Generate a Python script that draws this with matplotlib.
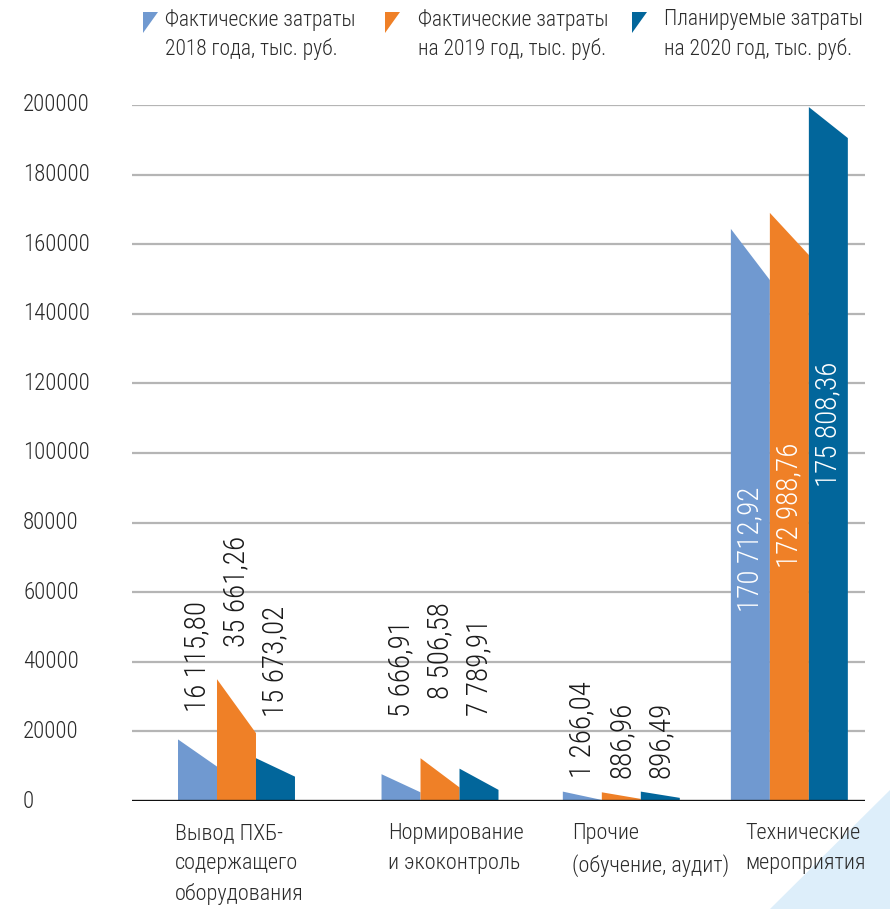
import matplotlib
matplotlib.use('Agg')
import matplotlib.pyplot as plt
from matplotlib import font_manager
from matplotlib.patches import Polygon

# pick a narrow face if one is installed
names = {f.name for f in font_manager.fontManager.ttflist}
family = 'DejaVu Sans'
for n in ['Roboto Condensed', 'Liberation Sans Narrow', 'Open Sans Condensed',
          'Noto Sans Condensed', 'DejaVu Sans Condensed']:
    if n in names:
        family = n
        break
plt.rcParams['font.family'] = [family, 'DejaVu Sans']
plt.rcParams['font.stretch'] = 'condensed'
plt.rcParams['font.weight'] = 'light'

categories = ['Вывод ПХБ-\nсодержащего\nоборудования', 'Нормирование\nи экоконтроль',
              'Прочие\n(обучение, аудит)', 'Технические\nмероприятия']
series = ['Фактические затраты\n2018 года, тыс. руб.',
          'Фактические затраты\nна 2019 год, тыс. руб.',
          'Планируемые затраты\nна 2020 год, тыс. руб.']

# drawn bar shapes (left edge top, right edge top)
left_2018 = [17700, 7700, 2700, 164400]
right_2018 = [9900, 2500, 300, 149700]
left_2019 = [35000, 12300, 2500, 169000]
right_2019 = [19500, 3900, 600, 156900]
left_2020 = [12300, 9300, 2700, 199400]
right_2020 = [7000, 3200, 900, 190500]

labels_2018 = ['16 115,80', '5 666,91', '1 266,04', '170 712,92']
labels_2019 = ['35 661,26', '8 506,58', '886,96', '172 988,76']
labels_2020 = ['15 673,02', '7 789,91', '896,49', '175 808,36']

yticks = [0, 20000, 40000, 60000, 80000, 100000, 120000, 140000, 160000, 180000, 200000]

colors = ['#7099d0', '#ef8027', '#02669b']
text_col = '#2b2b2b'

# layout
group_start = [1.18, 6.40, 11.05, 15.36]
label_y = [[25600, 24200, 6600, 54300],
           [44300, 29300, 6600, 67000],
           [24200, 24400, 6600, 90200]]
cat_x = [175, 388, 572, 745]

W, H = 890, 909
fig = plt.figure(figsize=(W / 100, H / 100), dpi=100)

# light blue corner triangle
fig.patches.append(Polygon([(770 / W, 0), (1, 0), (1, (H - 790) / H)], closed=True,
                           transform=fig.transFigure, facecolor='#ddeefa',
                           edgecolor='none', zorder=0))

ax = fig.add_axes([132 / W, (H - 801) / H, 733 / W, (801 - 105) / H])
ax.patch.set_alpha(0)
ax.set_xlim(0, 18.8)
ax.set_ylim(0, 200000)
for s in ax.spines.values():
    s.set_visible(False)
ax.set_xticks([])
ax.set_yticks([])

for t in yticks[1:]:
    ax.axhline(t, color='#b5b5b5', lw=1.6, zorder=1)
ax.axhline(0, color='#111111', lw=2.4, zorder=3)

for t in yticks:
    ax.text(-0.1487, t, str(t), transform=ax.get_yaxis_transform(), ha='left',
            va='center', fontsize=16.5, color=text_col)

lefts = [left_2018, left_2019, left_2020]
rights = [right_2018, right_2019, right_2020]
labels = [labels_2018, labels_2019, labels_2020]
for j in range(3):
    for i in range(4):
        x0 = group_start[i] + j
        x1 = x0 + 1
        ax.fill([x0, x0, x1, x1], [0, lefts[j][i], rights[j][i], 0],
                color=colors[j], lw=0, zorder=2)
        col = 'white' if i == 3 else '#1a1a1a'
        ax.text(x0 + 0.5, label_y[j][i], labels[j][i], rotation=90, ha='center',
                va='bottom', fontsize=21, color=col, zorder=4)

for i, c in enumerate(categories):
    fig.text(cat_x[i] / W, 1 - 823 / H, c, ha='left', va='top', fontsize=16,
             color=text_col, linespacing=1.55)

# legend
leg_x = [143, 385, 632]
text_x = [165, 418, 664]
for j in range(3):
    x0 = leg_x[j]
    tri = [(x0 / W, 1 - 12 / H), ((x0 + 15) / W, 1 - 12 / H), (x0 / W, 1 - 33 / H)]
    fig.patches.append(Polygon(tri, closed=True, transform=fig.transFigure,
                               facecolor=colors[j], edgecolor='none'))
    fig.text(text_x[j] / W, 1 - 9 / H, series[j], ha='left', va='top', fontsize=15.5,
             color=text_col, linespacing=1.45)

fig.savefig('out.png', dpi=100)
